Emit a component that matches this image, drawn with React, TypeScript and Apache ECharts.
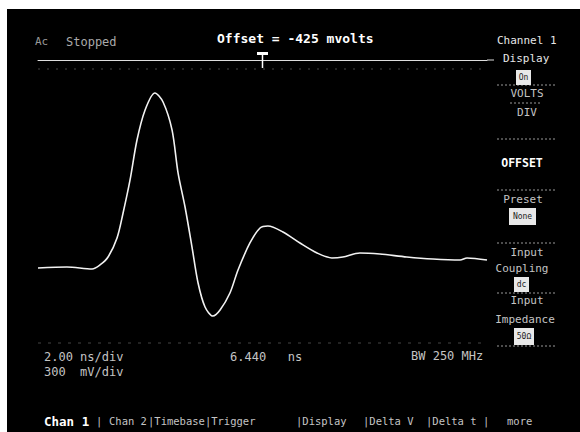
import React, { useEffect, useRef } from "react";
import * as echarts from "echarts";

// Waveform samples: time (ns) and amplitude (mV)
const timeNs = [-3.56, -2.27, -1.15, -0.8, -0.44, -0.04, 0.23, 0.54, 0.85, 1.21, 1.65, 2.01, 2.41, 2.68, 2.99, 3.3, 3.57, 3.88, 4.23, 4.55, 4.99, 5.35, 5.88, 6.33, 6.68, 7.35, 8.11, 8.87, 9.53, 10.02, 10.78, 11.67, 12.87, 14.03, 15.24, 15.55, 16.44];
const voltsMv = [-977, -968, -985, -951, -884, -724, -513, -235, 101, 354, 497, 421, 186, -177, -463, -800, -1103, -1305, -1381, -1330, -1187, -993, -766, -640, -623, -673, -766, -850, -892, -884, -850, -859, -884, -901, -909, -892, -909];

// Scope settings
const timePerDiv = 2; // ns/div
const timeCenter = 6.44; // ns
const mvPerDiv = 300;
const offsetMv = -425;

const menuLabels = [
  { t: "VOLTS", x: 527, y: 93 },
  { t: "DIV", x: 527, y: 112 },
  { t: "Preset", x: 523, y: 199 },
  { t: "Input", x: 527, y: 252 },
  { t: "Coupling", x: 522, y: 268 },
  { t: "Input", x: 527, y: 300 },
  { t: "Impedance", x: 525, y: 319 },
];
const menuBoxes = [
  { t: "On", x: 516, y: 70, w: 15, h: 15 },
  { t: "None", x: 509, y: 208, w: 27, h: 17 },
  { t: "dc", x: 514, y: 277, w: 15, h: 15 },
  { t: "50\u03a9", x: 514, y: 328, w: 20, h: 17 },
];
const separators = [85, 139, 190, 243, 293, 346];
const bottomMenu = [
  { t: "|", x: 96 },
  { t: "Chan 2", x: 109 },
  { t: "|Timebase|Trigger", x: 148 },
  { t: "|Display", x: 296 },
  { t: "|Delta V", x: 363 },
  { t: "|Delta t |", x: 426 },
  { t: "more", x: 507 },
];

const MONO = '"DejaVu Sans Mono", "Liberation Mono", monospace';

function txt(text: string, x: number, y: number, size: number, fill: string, align = "left", bold = false) {
  return {
    type: "text",
    x,
    y,
    z: 10,
    style: {
      text,
      fill,
      font: `${bold ? "bold " : ""}${size}px ${MONO}`,
      textAlign: align,
      textVerticalAlign: "middle",
      align,
      verticalAlign: "middle",
    },
  };
}

export default function App() {
  const ref = useRef<HTMLDivElement>(null);
  useEffect(() => {
    if (!ref.current) return;
    const chart = echarts.init(ref.current, null, { renderer: "svg" });
    const dim = "#c4c4c4";
    const graphic: any[] = [
      { type: "rect", shape: { x: 0, y: 0, width: 7, height: 432 }, style: { fill: "#fff" }, z: 20 },
      { type: "rect", shape: { x: 0, y: 0, width: 580, height: 9 }, style: { fill: "#fff" }, z: 20 },
      // faint graticule lines
      { type: "line", shape: { x1: 38, y1: 69, x2: 487, y2: 69 }, style: { stroke: "#444", lineWidth: 1, lineDash: [2, 7] }, z: 1 },
      { type: "line", shape: { x1: 38, y1: 343, x2: 487, y2: 343 }, style: { stroke: "#444", lineWidth: 1, lineDash: [3, 7] }, z: 1 },
      { type: "line", shape: { x1: 487, y1: 60, x2: 494, y2: 60 }, style: { stroke: "#ddd", lineWidth: 1 }, z: 1 },
      // trigger marker
      { type: "rect", shape: { x: 257, y: 52, width: 11, height: 3 }, style: { fill: "#fff" }, z: 10 },
      { type: "line", shape: { x1: 262.5, y1: 52, x2: 262.5, y2: 68 }, style: { stroke: "#fff", lineWidth: 1.5 }, z: 10 },
      // header
      txt("Ac", 35, 41, 11, "#999"),
      txt("Stopped", 66, 42, 12, "#aaa"),
      txt(`Offset = ${offsetMv} mvolts`, 217, 38, 13, "#fff", "left", true),
      txt("Channel 1", 497, 40, 11, "#e6e6e6"),
      txt("Display", 503, 58, 11, "#e6e6e6"),
      txt("OFFSET", 522, 163, 11.5, "#fff", "center", true),
      // readouts
      txt(`${timePerDiv.toFixed(2)} ns/div`, 44, 357, 12, dim),
      txt(`${mvPerDiv}  mV/div`, 44, 372, 12, dim),
      txt(`${timeCenter.toFixed(3)}   ns`, 230, 357, 12, dim),
      txt("BW 250 MHz", 411, 356, 12, dim),
      txt("Chan 1", 44, 421, 12.5, "#fff", "left", true),
    ];
    menuLabels.forEach((m) => graphic.push(txt(m.t, m.x, m.y, 11, dim, "center")));
    menuBoxes.forEach((b) => {
      graphic.push({ type: "rect", shape: { x: b.x, y: b.y, width: b.w, height: b.h }, style: { fill: "#e8e8e8" }, z: 9 });
      graphic.push(txt(b.t, b.x + b.w / 2, b.y + b.h / 2, 8, "#222", "center"));
    });
    separators.forEach((y) =>
      graphic.push({ type: "line", shape: { x1: 497, y1: y, x2: 555, y2: y }, style: { stroke: "#999", lineWidth: 1, lineDash: [2, 2] }, z: 5 })
    );
    graphic.push({ type: "line", shape: { x1: 510, y1: 103, x2: 542, y2: 103 }, style: { stroke: "#999", lineWidth: 1, lineDash: [2, 2] }, z: 5 });
    bottomMenu.forEach((b) => graphic.push(txt(b.t, b.x, 421, 10.5, dim)));

    const xMin = timeCenter - 5 * timePerDiv;
    const xMax = timeCenter + 5 * timePerDiv;
    const yMin = offsetMv - 4 * mvPerDiv;
    const yMax = offsetMv + 4 * mvPerDiv;

    chart.setOption({
      animation: false,
      backgroundColor: "#000",
      grid: { left: 38, right: 93, top: 60, bottom: 87 },
      xAxis: {
        type: "value",
        min: xMin,
        max: xMax,
        position: "top",
        axisLine: { show: true, onZero: false, lineStyle: { color: "#ddd", width: 1 } },
        axisTick: { show: false },
        axisLabel: { show: false },
        splitLine: { show: false },
      },
      yAxis: {
        type: "value",
        min: yMin,
        max: yMax,
        axisLine: { show: false },
        axisTick: { show: false },
        axisLabel: { show: false },
        splitLine: { show: false },
      },
      graphic,
      series: [
        {
          type: "line",
          data: timeNs.map((t, i) => [t, voltsMv[i]]),
          smooth: 0.3,
          showSymbol: false,
          lineStyle: { color: "#f2f2f2", width: 1.6 },
          z: 3,
        },
      ],
    });
    return () => chart.dispose();
  }, []);
  return (
    <div style={{ position: "fixed", left: 0, top: 0, width: 580, height: 432, background: "#fff" }}>
      <div ref={ref} style={{ width: 580, height: 432 }} />
    </div>
  );
}
